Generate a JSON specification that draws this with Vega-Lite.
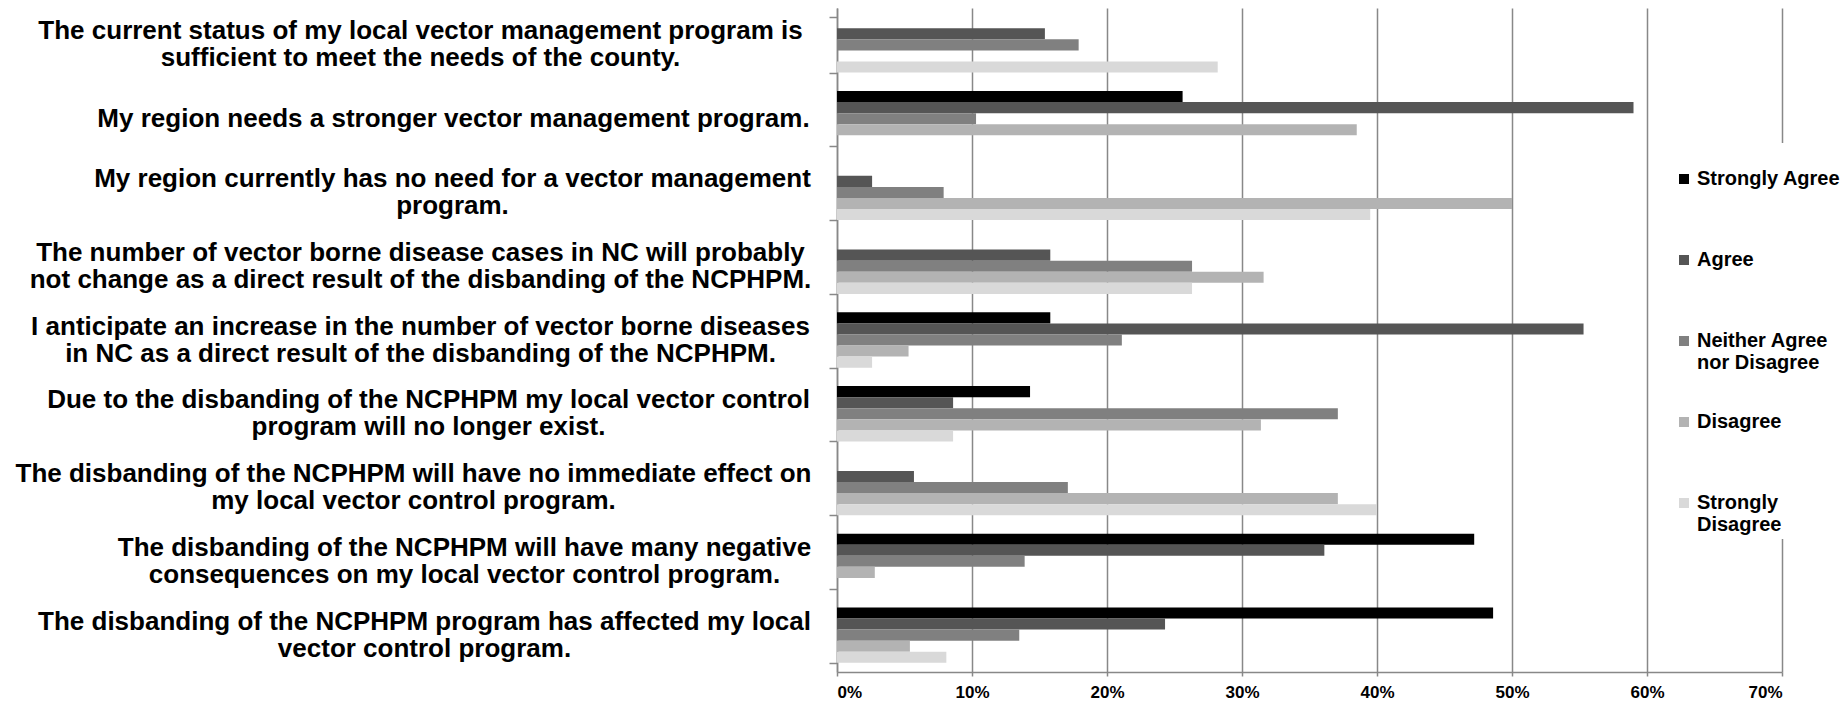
{
  "$schema": "https://vega.github.io/schema/vega-lite/v6.json",
  "autosize": "none",
  "width": 945,
  "height": 664,
  "padding": {"left": 837, "top": 8, "right": 63, "bottom": 29},
  "background": "white",
  "config": {"view": {"stroke": null}, "font": "Liberation Sans"},
  "datasets": {
    "survey": [
      {"q": "The current status of my local vector management program is sufficient to meet the needs of the county.", "r": "Strongly Agree", "v": 0},
      {"q": "The current status of my local vector management program is sufficient to meet the needs of the county.", "r": "Agree", "v": 0.154},
      {"q": "The current status of my local vector management program is sufficient to meet the needs of the county.", "r": "Neither Agree nor Disagree", "v": 0.179},
      {"q": "The current status of my local vector management program is sufficient to meet the needs of the county.", "r": "Disagree", "v": 0},
      {"q": "The current status of my local vector management program is sufficient to meet the needs of the county.", "r": "Strongly Disagree", "v": 0.282},
      {"q": "My region needs a stronger vector management program.", "r": "Strongly Agree", "v": 0.256},
      {"q": "My region needs a stronger vector management program.", "r": "Agree", "v": 0.590},
      {"q": "My region needs a stronger vector management program.", "r": "Neither Agree nor Disagree", "v": 0.103},
      {"q": "My region needs a stronger vector management program.", "r": "Disagree", "v": 0.385},
      {"q": "My region needs a stronger vector management program.", "r": "Strongly Disagree", "v": 0},
      {"q": "My region currently has no need for a vector management program.", "r": "Strongly Agree", "v": 0},
      {"q": "My region currently has no need for a vector management program.", "r": "Agree", "v": 0.026},
      {"q": "My region currently has no need for a vector management program.", "r": "Neither Agree nor Disagree", "v": 0.079},
      {"q": "My region currently has no need for a vector management program.", "r": "Disagree", "v": 0.500},
      {"q": "My region currently has no need for a vector management program.", "r": "Strongly Disagree", "v": 0.395},
      {"q": "The number of vector borne disease cases in NC will probably not change as a direct result of the disbanding of the NCPHPM.", "r": "Strongly Agree", "v": 0},
      {"q": "The number of vector borne disease cases in NC will probably not change as a direct result of the disbanding of the NCPHPM.", "r": "Agree", "v": 0.158},
      {"q": "The number of vector borne disease cases in NC will probably not change as a direct result of the disbanding of the NCPHPM.", "r": "Neither Agree nor Disagree", "v": 0.263},
      {"q": "The number of vector borne disease cases in NC will probably not change as a direct result of the disbanding of the NCPHPM.", "r": "Disagree", "v": 0.316},
      {"q": "The number of vector borne disease cases in NC will probably not change as a direct result of the disbanding of the NCPHPM.", "r": "Strongly Disagree", "v": 0.263},
      {"q": "I anticipate an increase in the number of vector borne diseases in NC as a direct result of the disbanding of the NCPHPM.", "r": "Strongly Agree", "v": 0.158},
      {"q": "I anticipate an increase in the number of vector borne diseases in NC as a direct result of the disbanding of the NCPHPM.", "r": "Agree", "v": 0.553},
      {"q": "I anticipate an increase in the number of vector borne diseases in NC as a direct result of the disbanding of the NCPHPM.", "r": "Neither Agree nor Disagree", "v": 0.211},
      {"q": "I anticipate an increase in the number of vector borne diseases in NC as a direct result of the disbanding of the NCPHPM.", "r": "Disagree", "v": 0.053},
      {"q": "I anticipate an increase in the number of vector borne diseases in NC as a direct result of the disbanding of the NCPHPM.", "r": "Strongly Disagree", "v": 0.026},
      {"q": "Due to the disbanding of the NCPHPM my local vector control program will no longer exist.", "r": "Strongly Agree", "v": 0.143},
      {"q": "Due to the disbanding of the NCPHPM my local vector control program will no longer exist.", "r": "Agree", "v": 0.086},
      {"q": "Due to the disbanding of the NCPHPM my local vector control program will no longer exist.", "r": "Neither Agree nor Disagree", "v": 0.371},
      {"q": "Due to the disbanding of the NCPHPM my local vector control program will no longer exist.", "r": "Disagree", "v": 0.314},
      {"q": "Due to the disbanding of the NCPHPM my local vector control program will no longer exist.", "r": "Strongly Disagree", "v": 0.086},
      {"q": "The disbanding of the NCPHPM will have no immediate effect on my local vector control program.", "r": "Strongly Agree", "v": 0},
      {"q": "The disbanding of the NCPHPM will have no immediate effect on my local vector control program.", "r": "Agree", "v": 0.057},
      {"q": "The disbanding of the NCPHPM will have no immediate effect on my local vector control program.", "r": "Neither Agree nor Disagree", "v": 0.171},
      {"q": "The disbanding of the NCPHPM will have no immediate effect on my local vector control program.", "r": "Disagree", "v": 0.371},
      {"q": "The disbanding of the NCPHPM will have no immediate effect on my local vector control program.", "r": "Strongly Disagree", "v": 0.400},
      {"q": "The disbanding of the NCPHPM will have many negative consequences on my local vector control program.", "r": "Strongly Agree", "v": 0.472},
      {"q": "The disbanding of the NCPHPM will have many negative consequences on my local vector control program.", "r": "Agree", "v": 0.361},
      {"q": "The disbanding of the NCPHPM will have many negative consequences on my local vector control program.", "r": "Neither Agree nor Disagree", "v": 0.139},
      {"q": "The disbanding of the NCPHPM will have many negative consequences on my local vector control program.", "r": "Disagree", "v": 0.028},
      {"q": "The disbanding of the NCPHPM will have many negative consequences on my local vector control program.", "r": "Strongly Disagree", "v": 0},
      {"q": "The disbanding of the NCPHPM program has affected my local vector control program.", "r": "Strongly Agree", "v": 0.486},
      {"q": "The disbanding of the NCPHPM program has affected my local vector control program.", "r": "Agree", "v": 0.243},
      {"q": "The disbanding of the NCPHPM program has affected my local vector control program.", "r": "Neither Agree nor Disagree", "v": 0.135},
      {"q": "The disbanding of the NCPHPM program has affected my local vector control program.", "r": "Disagree", "v": 0.054},
      {"q": "The disbanding of the NCPHPM program has affected my local vector control program.", "r": "Strongly Disagree", "v": 0.081}
    ]
  },
  "data": {"name": "survey"},
  "mark": {"type": "bar"},
  "encoding": {
    "y": {
      "field": "q",
      "type": "nominal",
      "sort": null,
      "scale": {"paddingInner": 0.25, "paddingOuter": 0.125},
      "axis": {
        "title": null,
        "tickBand": "extent",
        "tickSize": 8,
        "tickColor": "#888888",
        "tickWidth": 1.5,
        "domainColor": "#888888",
        "domainWidth": 1.5,
        "labelAlign": "center",
        "labelBaseline": "middle",
        "labelFont": "Liberation Sans",
        "labelFontSize": 26,
        "labelFontWeight": "bold",
        "labelColor": "black",
        "labelLineHeight": 27,
        "labelLimit": 0,
        "labelPadding": {
          "condition": [
            {"test": "datum.value == 'My region needs a stronger vector management program.'", "value": 376},
            {"test": "datum.value == 'My region currently has no need for a vector management program.'", "value": 377},
            {"test": "datum.value == 'The disbanding of the NCPHPM will have many negative consequences on my local vector control program.'", "value": 365},
            {"test": "datum.value == 'The disbanding of the NCPHPM will have no immediate effect on my local vector control program.'", "value": 416},
            {"test": "datum.value == 'Due to the disbanding of the NCPHPM my local vector control program will no longer exist.'", "value": 401},
            {"test": "datum.value == 'The disbanding of the NCPHPM program has affected my local vector control program.'", "value": 405}
          ],
          "value": 409
        },
        "labelOffset": {"condition": {"test": "datum.value == 'My region needs a stronger vector management program.'", "value": 0}, "value": -14},
        "labelExpr": "datum.label == 'The current status of my local vector management program is sufficient to meet the needs of the county.' ? ['The current status of my local vector management program is', 'sufficient to meet the needs of the county.'] : datum.label == 'My region currently has no need for a vector management program.' ? ['My region currently has no need for a vector management', 'program.'] : datum.label == 'The number of vector borne disease cases in NC will probably not change as a direct result of the disbanding of the NCPHPM.' ? ['The number of vector borne disease cases in NC will probably', 'not change as a direct result of the disbanding of the NCPHPM.'] : datum.label == 'I anticipate an increase in the number of vector borne diseases in NC as a direct result of the disbanding of the NCPHPM.' ? ['I anticipate an increase in the number of vector borne diseases', 'in NC as a direct result of the disbanding of the NCPHPM.'] : datum.label == 'Due to the disbanding of the NCPHPM my local vector control program will no longer exist.' ? ['Due to the disbanding of the NCPHPM my local vector control', 'program will no longer exist.'] : datum.label == 'The disbanding of the NCPHPM will have no immediate effect on my local vector control program.' ? ['The disbanding of the NCPHPM will have no immediate effect on', 'my local vector control program.'] : datum.label == 'The disbanding of the NCPHPM will have many negative consequences on my local vector control program.' ? ['The disbanding of the NCPHPM will have many negative', 'consequences on my local vector control program.'] : datum.label == 'The disbanding of the NCPHPM program has affected my local vector control program.' ? ['The disbanding of the NCPHPM program has affected my local', 'vector control program.'] : datum.label"
      }
    },
    "yOffset": {
      "field": "r",
      "type": "nominal",
      "sort": ["Strongly Agree", "Agree", "Neither Agree nor Disagree", "Disagree", "Strongly Disagree"],
      "scale": {"paddingInner": 0, "paddingOuter": 0}
    },
    "x": {
      "field": "v",
      "type": "quantitative",
      "scale": {"domain": [0, 0.7], "nice": false},
      "axis": {
        "title": null,
        "format": ".0%",
        "values": [0, 0.1, 0.2, 0.3, 0.4, 0.5, 0.6, 0.7],
        "grid": true,
        "gridColor": "#888888",
        "gridWidth": 1.5,
        "domainColor": "#888888",
        "domainWidth": 1.5,
        "tickColor": "#888888",
        "tickWidth": 1.5,
        "tickSize": 4,
        "labelFont": "Liberation Sans",
        "labelFontSize": 17,
        "labelFontWeight": "bold",
        "labelColor": "black",
        "labelPadding": 8
      }
    },
    "color": {
      "field": "r",
      "type": "nominal",
      "sort": ["Strongly Agree", "Agree", "Neither Agree nor Disagree", "Disagree", "Strongly Disagree"],
      "scale": {
        "domain": ["Strongly Agree", "Agree", "Neither Agree nor Disagree", "Disagree", "Strongly Disagree"],
        "range": ["#000000", "#555555", "#808080", "#b3b3b3", "#d9d9d9"]
      },
      "legend": {
        "orient": "none",
        "legendX": 835,
        "legendY": 135,
        "title": null,
        "symbolType": "square",
        "symbolSize": 100,
        "symbolStrokeWidth": 0,
        "labelFont": "Liberation Sans",
        "labelFontSize": 20,
        "labelFontWeight": "bold",
        "labelColor": "black",
        "labelLimit": 0,
        "labelOffset": 3,
        "labelBaseline": "middle",
        "clipHeight": 68,
        "rowPadding": 13,
        "fillColor": "white",
        "padding": 2,
        "labelExpr": "datum.label == 'Neither Agree nor Disagree' ? ['Neither Agree', 'nor Disagree'] : datum.label == 'Strongly Disagree' ? ['Strongly', 'Disagree'] : datum.label"
      }
    }
  }
}
